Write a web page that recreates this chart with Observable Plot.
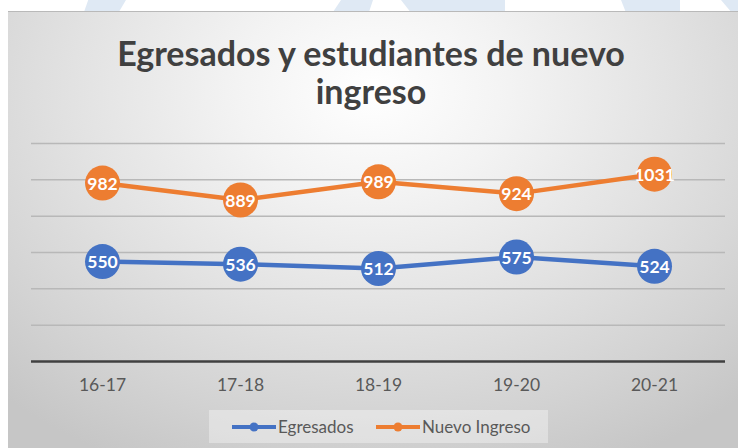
<!DOCTYPE html>
<html>
<head>
<meta charset="utf-8">
<script src="https://cdn.jsdelivr.net/npm/d3@7"></script>
<script src="https://cdn.jsdelivr.net/npm/@observablehq/plot@0.6"></script>
<style>
  html, body { margin:0; padding:0; background:#ffffff; width:738px; height:448px; overflow:hidden; font-family:Lato, "Open Sans", sans-serif; }
  .wm { position:absolute; top:0; height:12px; background:#dfe9f4; }
  #box { position:absolute; left:8px; top:11px; width:730px; height:437px;
         border-top:1.5px solid #b9b9b9;
         background: radial-gradient(ellipse 75% 95% at 50% 18%, #ffffff 0%, #f3f3f3 25%, #e2e2e2 55%, #d3d3d3 80%, #c6c6c6 100%); }
  .title { position:absolute; left:0; width:742px; text-align:center; color:#404040; font-weight:700; line-height:1; white-space:nowrap; font-family:Lato; }
  #plot { position:absolute; left:0; top:120px; }
  #legend { position:absolute; left:209px; top:410px; width:339px; height:33px; background:rgba(255,255,255,0.35);
            font-size:17px; color:#595959; font-family:Lato; }
  .item { position:absolute; top:0; height:33px; display:flex; align-items:center; }
  .item svg { display:block; }
</style>
</head>
<body>
<div class="wm" style="left:84px;width:42px;clip-path:polygon(10% 0,100% 0,83% 100%,0 100%)"></div>
<div class="wm" style="left:333px;width:40px;clip-path:polygon(20% 0,100% 0,90% 100%,0 100%)"></div>
<div class="wm" style="left:401px;width:104px;clip-path:polygon(0 0,100% 0,100% 100%,9% 100%)"></div>
<div class="wm" style="left:621px;width:59px;clip-path:polygon(0 0,100% 0,100% 100%,8% 100%)"></div>
<div class="wm" style="left:721px;width:17px;clip-path:polygon(0 0,100% 0,100% 100%,60% 100%)"></div>
<div id="box"></div>
<div class="title" id="t1">Egresados y estudiantes de nuevo</div>
<div class="title" id="t2">ingreso</div>
<div id="plot"></div>
<div id="legend">
  <div class="item" style="left:23px"><svg width="44" height="10"><line x1="0" y1="5" x2="44" y2="5" stroke="#4472C4" stroke-width="4" stroke-linecap="round"/><circle cx="22" cy="5" r="4.5" fill="#4472C4"/></svg><span style="margin-left:2px">Egresados</span></div>
  <div class="item" style="left:167px"><svg width="44" height="10"><line x1="0" y1="5" x2="44" y2="5" stroke="#ED7D31" stroke-width="4" stroke-linecap="round"/><circle cx="22" cy="5" r="4.5" fill="#ED7D31"/></svg><span style="margin-left:2px">Nuevo Ingreso</span></div>
</div>
<script>
// ---- data ----
const years = ["16-17", "17-18", "18-19", "19-20", "20-21"];
const egresados = [550, 536, 512, 575, 524];
const nuevoIngreso = [982, 889, 989, 924, 1031];
const seriesNames = ["Egresados", "Nuevo Ingreso"];
const seriesColors = ["#4472C4", "#ED7D31"];
const yTicks = [0, 200, 400, 600, 800, 1000, 1200];

const data = years.flatMap((yr, i) => [
  {year: yr, value: egresados[i], series: seriesNames[0]},
  {year: yr, value: nuevoIngreso[i], series: seriesNames[1]}
]);

// ---- title fit ----
function fitTitle() {
  const t1 = document.getElementById("t1");
  const t2 = document.getElementById("t2");
  const probe = document.createElement("span");
  probe.style.cssText = "position:absolute;visibility:hidden;white-space:nowrap;font-weight:700;font-family:Lato;font-size:30px";
  probe.textContent = t1.textContent;
  document.body.appendChild(probe);
  const w = probe.getBoundingClientRect().width;
  probe.remove();
  const fs = Math.min(34, 30 * 510 / w);
  const off = 0.887 * fs;
  for (const [el, base] of [[t1, 66], [t2, 104]]) {
    el.style.fontSize = fs + "px";
    el.style.top = (base - off) + "px";
  }
}
fitTitle();

// ---- chart ----
const chart = Plot.plot({
  width: 738,
  height: 290,
  marginTop: 23,
  marginBottom: 49,
  marginLeft: 31,
  marginRight: 13,
  style: {background: "transparent", fontFamily: "Lato", overflow: "visible"},
  x: {type: "point", domain: years, padding: 0.5, label: null},
  y: {domain: [0, 1200], axis: null},
  color: {domain: seriesNames, range: seriesColors},
  marks: [
    Plot.ruleY(yTicks.filter(d => d > 0), {stroke: "#b8b8b8", strokeWidth: 1.5}),
    Plot.ruleY([0], {stroke: "#404040", strokeWidth: 2.5}),
    Plot.axisX({tickSize: 0, tickPadding: 17, fontSize: 17.5, color: "#595959", label: null}),
    Plot.line(data, {x: "year", y: "value", stroke: "series", strokeWidth: 4.5}),
    Plot.dot(data, {x: "year", y: "value", fill: "series", r: 17.5}),
    Plot.text(data, {x: "year", y: "value", text: d => String(d.value), fill: "white", fontWeight: "bold", fontSize: 17.5, dy: 1})
  ]
});
document.getElementById("plot").appendChild(chart);
</script>
</body>
</html>
